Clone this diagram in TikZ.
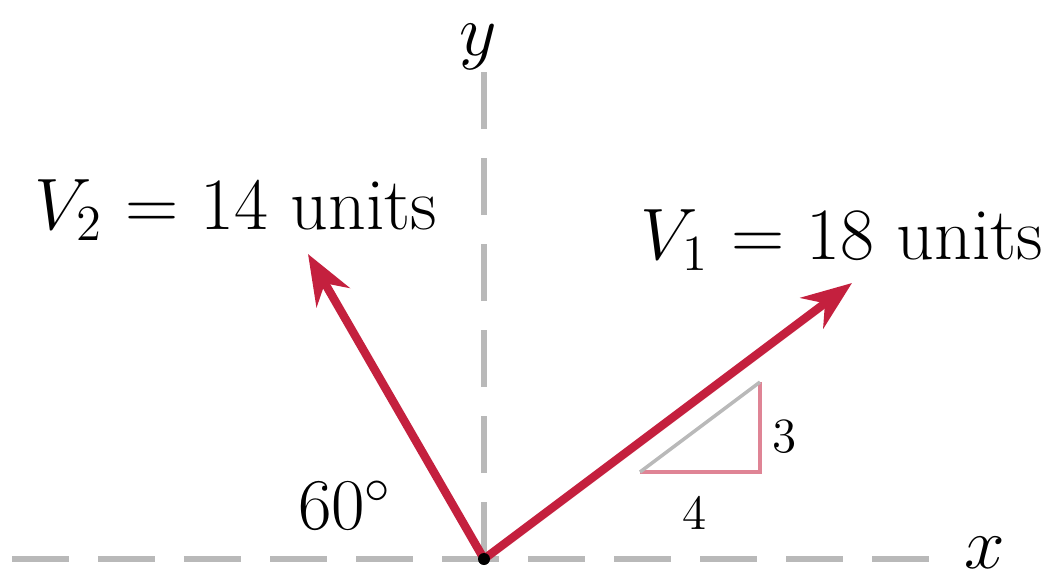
\documentclass[tikz,border=0pt]{standalone}
\usepackage{fontspec}
\usetikzlibrary{arrows.meta}
\definecolor{vecred}{RGB}{196,32,62}
\begin{document}
\begin{tikzpicture}[every node/.style={font=\fontsize{21}{25}\selectfont},
  axis/.style={gray!55,line width=1.5pt,dash pattern=on 0.57cm off 0.29cm},
  vec/.style={vecred,line width=2.4pt,-{Stealth[length=0.5cm,width=0.38cm]}},
  tri/.style={vecred!55,line width=1pt}]
\useasboundingbox (-4.84,-0.2) rectangle (5.79,5.59);
\coordinate (o) at (0,0);
\coordinate (xl) at (-4.72,0);
\coordinate (xr) at (4.66,0);
\coordinate (yt) at (0,5.0);
\coordinate (v1) at (3.68,2.76);
\coordinate (v2) at (-1.76,3.05);
\coordinate (ta) at (1.56,0.87);
\coordinate (tb) at (2.76,0.87);
\coordinate (tc) at (2.76,1.77);
\draw[axis] (xl) -- (xr);
\draw[axis] (o) -- (yt);
\node (xlab) at (5.01,0.06) {$x$};
\node (ylab) at (-0.06,5.12) {$y$};
\draw[tri] (ta) -- (tb) -- (tc);
\draw[gray!55,line width=1pt] (ta) -- (tc);
\node[font=\fontsize{14}{16}\selectfont] (three) at (3.01,1.22) {3};
\node[font=\fontsize{14}{16}\selectfont] (four) at (2.11,0.46) {4};
\draw[vec] (o) -- (v1);
\draw[vec] (o) -- (v2);
\fill[black] (o) circle (0.06);
\node (v1lab) at (3.58,3.19) {$V_1$ = 18 units};
\node (v2lab) at (-2.48,3.49) {$V_2$ = 14 units};
\node (ang) at (-1.39,0.54) {$60^\circ$};
\end{tikzpicture}
\end{document}
